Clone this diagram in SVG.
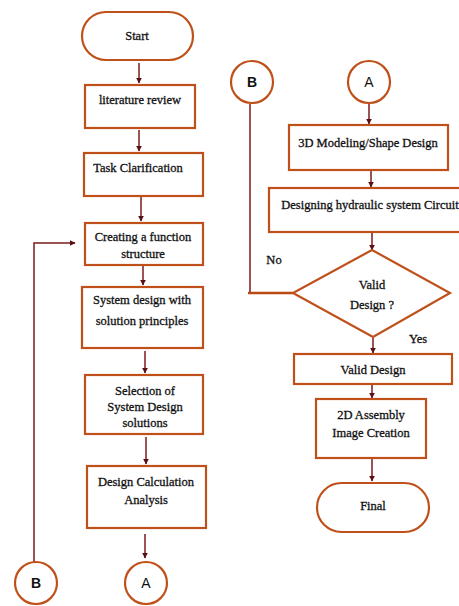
<svg xmlns="http://www.w3.org/2000/svg" width="459" height="606" viewBox="0 0 459 606">
<style>
.box{fill:#fff;stroke:#c0501a;stroke-width:2.2}
.t{font-family:"Liberation Serif","DejaVu Serif",serif;font-size:12.5px;fill:#111;stroke:#111;stroke-width:0.3;text-anchor:middle}
.c{font-family:"Liberation Sans",Arial,sans-serif;font-size:14px;fill:#111;text-anchor:middle}
.ar{fill:none;stroke:#7a1a1a;stroke-width:1.5;marker-end:url(#ah)}
.ln{fill:none;stroke:#7a1a1a;stroke-width:1.5}
</style>
<defs>
<marker id="ah" viewBox="0 0 10 10" refX="9" refY="5" markerWidth="6" markerHeight="6" orient="auto" markerUnits="userSpaceOnUse">
<path d="M0,0 L10,5 L0,10 z" fill="#5a0f14"/>
</marker>
</defs>
<rect width="459" height="606" fill="#fff"/>
<g id="connectors">
<line class="ar" x1="139" y1="63" x2="139" y2="83"/>
<line class="ar" x1="139" y1="130" x2="139" y2="151"/>
<line class="ar" x1="141" y1="197" x2="141" y2="221"/>
<line class="ar" x1="143" y1="266" x2="143" y2="285"/>
<line class="ar" x1="145" y1="351" x2="145" y2="373"/>
<line class="ar" x1="146" y1="437" x2="146" y2="464"/>
<line class="ar" x1="145" y1="534" x2="145" y2="558"/>
<polyline class="ar" points="34,562 34,243 75,243"/>
<line class="ar" x1="369" y1="104" x2="369" y2="124"/>
<line class="ar" x1="371" y1="171" x2="371" y2="187"/>
<line class="ar" x1="372" y1="233" x2="372" y2="250"/>
<line class="ar" x1="373" y1="338" x2="373" y2="353"/>
<line class="ar" x1="372" y1="385" x2="372" y2="398"/>
<line class="ar" x1="372" y1="459" x2="372" y2="481"/>
<line class="ln" x1="250" y1="104" x2="250" y2="293"/>
<line x1="248" y1="293" x2="293" y2="293" stroke="#b84a10" stroke-width="2.5"/>
<text class="t" x="274" y="264">No</text>
<text class="t" x="418" y="343">Yes</text>
</g>
<g id="start"><rect class="box" x="82" y="12" width="111" height="48" rx="24"/><text class="t" x="137" y="40">Start</text></g>
<g id="literature"><rect class="box" x="85" y="85" width="110" height="43"/><text class="t" x="140" y="104">literature review</text></g>
<g id="task"><rect class="box" x="84" y="153" width="119" height="43"/><text class="t" x="138" y="172">Task Clarification</text></g>
<g id="function"><rect class="box" x="85" y="223" width="118" height="42"/><text class="t" x="143" y="241">Creating a function</text><text class="t" x="143" y="258">structure</text></g>
<g id="system"><rect class="box" x="82" y="287" width="121" height="61"/><text class="t" x="142" y="304">System design with</text><text class="t" x="142" y="325">solution principles</text></g>
<g id="selection"><rect class="box" x="85" y="375" width="118" height="59"/><text class="t" x="145" y="395">Selection of</text><text class="t" x="145" y="411">System Design</text><text class="t" x="145" y="427">solutions</text></g>
<g id="calc"><rect class="box" x="87" y="466" width="119" height="62"/><text class="t" x="146" y="486">Design Calculation</text><text class="t" x="146" y="504">Analysis</text></g>
<g id="A1"><circle class="box" cx="146" cy="583" r="21"/><text class="c" x="146" y="588">A</text></g>
<g id="B1"><circle class="box" cx="36" cy="583" r="21"/><text class="c" x="36" y="588" font-weight="bold">B</text></g>
<g id="B2"><circle class="box" cx="252" cy="82" r="21"/><text class="c" x="252" y="87" font-weight="bold">B</text></g>
<g id="A2"><circle class="box" cx="369" cy="82" r="21"/><text class="c" x="369" y="87">A</text></g>
<g id="model3d"><rect class="box" x="289" y="125" width="159" height="45"/><text class="t" x="368" y="147">3D Modeling/Shape Design</text></g>
<g id="hydraulic"><rect class="box" x="269" y="188" width="200" height="44"/><text class="t" x="370" y="209">Designing hydraulic system Circuit</text></g>
<g id="decision"><polygon class="box" points="372,250 450,293 373,337 293,293"/><text class="t" x="372" y="289">Valid</text><text class="t" x="372" y="309">Design ?</text></g>
<g id="valid"><rect class="box" x="294" y="354" width="158" height="30"/><text class="t" x="373" y="374">Valid Design</text></g>
<g id="assembly"><rect class="box" x="316" y="399" width="110" height="59"/><text class="t" x="371" y="419">2D Assembly</text><text class="t" x="371" y="437">Image Creation</text></g>
<g id="final"><rect class="box" x="317" y="483" width="112" height="49" rx="24.5"/><text class="t" x="373" y="510">Final</text></g>
</svg>
